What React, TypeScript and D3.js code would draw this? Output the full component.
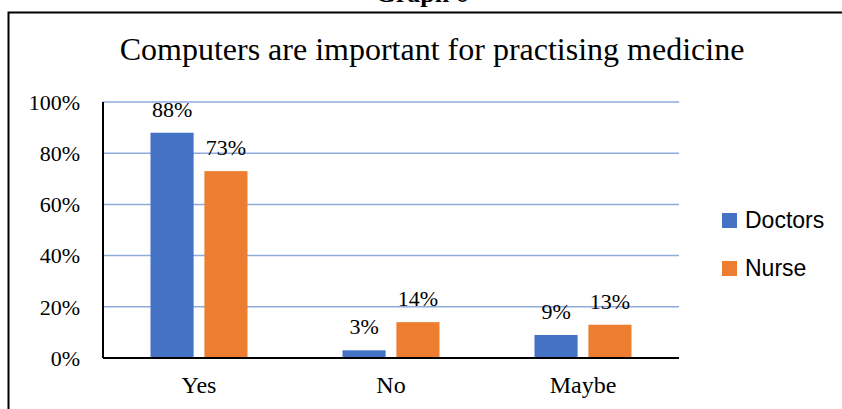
import React from "react";
import * as d3 from "d3";

const categories = ["Yes", "No", "Maybe"];
const seriesNames = ["Doctors", "Nurse"];
const doctors = [0.88, 0.03, 0.09];
const nurse = [0.73, 0.14, 0.13];
const yTicks = [0, 0.2, 0.4, 0.6, 0.8, 1.0];
const colors = ["#4472C4", "#ED7D31"];

const W = 842;
const H = 409;
const plotLeft = 103;
const plotRight = 679;
const plotTop = 102;
const plotBottom = 358;

export default function App() {
  const x0 = d3.scaleBand<string>().domain(categories).range([plotLeft, plotRight]).padding(0);
  const groupW = 97;
  const x1 = d3.scaleBand<string>().domain(seriesNames).range([0, groupW]).paddingInner(0.2);
  const y = d3.scaleLinear().domain([0, 1]).range([plotBottom, plotTop]);
  const fmt = d3.format(".0%");
  const values = [doctors, nurse];
  const serif = "'Liberation Serif', 'Times New Roman', serif";
  const sans = "'Liberation Sans', Arial, sans-serif";

  return (
    <svg
      width={W}
      height={H}
      style={{ position: "absolute", left: 0, top: 0, background: "#fff" }}
    >
      <rect x={0} y={0} width={W} height={H} fill="#fff" />
      {/* Heading, cut off at the top as in the source */}
      <text x={422} y={2} textAnchor="middle" fontFamily={serif} fontWeight="bold" fontSize={26} fill="#000">
        Graph 6
      </text>
      {/* Border */}
      <path d={`M8.5,${H} L8.5,12.5 L${W},12.5`} fill="none" stroke="#000" strokeWidth={2} />
      {/* Title */}
      <text x={432} y={60} textAnchor="middle" fontFamily={serif} fontSize={32} fill="#000">
        Computers are important for practising medicine
      </text>
      {/* Gridlines */}
      {yTicks.map((t) => (
        <g key={t}>
          {t > 0 && (
            <line x1={plotLeft} x2={plotRight} y1={y(t)} y2={y(t)} stroke="#8FAADC" strokeWidth={1.5} />
          )}
          <text
            x={80}
            y={y(t)}
            dy="0.35em"
            textAnchor="end"
            fontFamily={serif}
            fontSize={22}
            fill="#000"
          >
            {fmt(t)}
          </text>
        </g>
      ))}
      {/* Bars */}
      {categories.map((c, i) => {
        const gx = (x0(c) as number) + (x0.bandwidth() - groupW) / 2;
        return (
          <g key={c}>
            {seriesNames.map((s, j) => {
              const v = values[j][i];
              const bx = gx + (x1(s) as number);
              const bw = x1.bandwidth();
              return (
                <g key={s}>
                  <rect x={bx} y={y(v)} width={bw} height={plotBottom - y(v)} fill={colors[j]} />
                  <text
                    x={bx + bw / 2}
                    y={y(v) - 16}
                    textAnchor="middle"
                    fontFamily={serif}
                    fontSize={22}
                    fill="#000"
                  >
                    {fmt(v)}
                  </text>
                </g>
              );
            })}
            <text
              x={(x0(c) as number) + x0.bandwidth() / 2}
              y={393}
              textAnchor="middle"
              fontFamily={serif}
              fontSize={24}
              fill="#000"
            >
              {c}
            </text>
          </g>
        );
      })}
      {/* Axes */}
      <line x1={plotLeft} x2={plotLeft} y1={plotTop} y2={plotBottom} stroke="#000" strokeWidth={2} />
      <line x1={plotLeft} x2={plotRight} y1={plotBottom} y2={plotBottom} stroke="#000" strokeWidth={2} />
      {/* Legend */}
      {seriesNames.map((s, j) => (
        <g key={s} transform={`translate(722, ${213 + j * 48})`}>
          <rect x={0} y={0} width={15} height={15} fill={colors[j]} />
          <text x={23} y={15} fontFamily={sans} fontSize={23} fill="#000">
            {s}
          </text>
        </g>
      ))}
    </svg>
  );
}
